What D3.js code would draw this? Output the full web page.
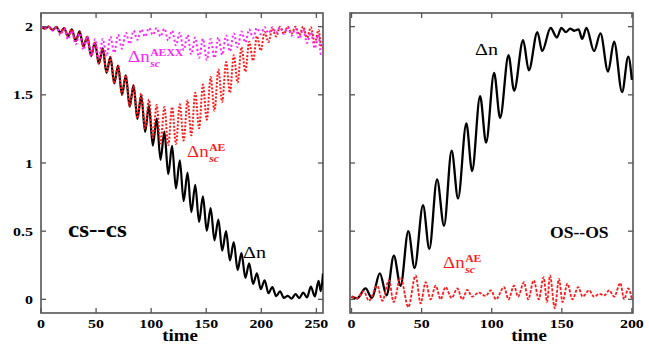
<!DOCTYPE html>
<html><head><meta charset="utf-8">
<script src="https://cdn.jsdelivr.net/npm/d3@7"></script>
<style>
body{margin:0;background:#fff}
svg{display:block}
svg text{font-family:"Liberation Serif","Times New Roman","DejaVu Serif",serif;}
</style>
</head><body>
<svg id="chart" width="649" height="345"></svg>
<script>
// ---------- data ----------
const leftTime = [0,3.5,7,10.5,14,17.5,21,24.5,28,31.5,35,38.5,42,45.5,49,52.5,56,59.5,63,66.5,70,73.5,77,80.5,84,87.5,91,94.5,98,101.5,105,108.5,112,115.5,119,122.5,126,129.5,133,136.5,140,143.5,147,150.5,154,157.5,161,164.5,168,171.5,175,178.5,182,185.5,189,192.5,196,199.5,203,206.5,210,213.5,217,220.5,224,227.5,231,234.5,238,241.5,245,248.5,252,254,256];
const leftDn = [2.00,1.985,2.00,1.975,1.998,1.955,1.99,1.93,1.98,1.895,1.965,1.855,1.925,1.786,1.883,1.729,1.84,1.661,1.778,1.584,1.715,1.501,1.643,1.414,1.57,1.323,1.495,1.228,1.42,1.128,1.325,1.023,1.23,0.918,1.125,0.813,1.02,0.72,0.93,0.64,0.84,0.568,0.755,0.503,0.67,0.433,0.585,0.358,0.50,0.285,0.42,0.215,0.34,0.158,0.265,0.113,0.19,0.075,0.14,0.045,0.09,0.024,0.058,0.011,0.025,0.006,0.038,0.009,0.05,0.014,0.093,0.021,0.135,0.06,0.19];
const leftDnAE = [2.00,1.985,2.00,1.975,1.998,1.955,1.99,1.93,1.98,1.895,1.965,1.855,1.925,1.786,1.883,1.729,1.84,1.661,1.778,1.584,1.715,1.501,1.643,1.414,1.57,1.33,1.51,1.253,1.465,1.185,1.425,1.143,1.41,1.13,1.41,1.14,1.43,1.165,1.46,1.203,1.515,1.255,1.575,1.318,1.63,1.383,1.685,1.448,1.74,1.515,1.79,1.59,1.85,1.67,1.89,1.75,1.93,1.825,1.96,1.888,1.985,1.928,2.0,1.948,2.0,1.95,2.0,1.938,2.0,1.918,1.995,1.885,1.975,1.87,1.84];
const leftDnAEXX = [2.0,1.985,2.0,1.97,1.995,1.939,1.982,1.906,1.97,1.87,1.95,1.83,1.93,1.785,1.908,1.767,1.91,1.783,1.925,1.808,1.94,1.838,1.955,1.873,1.97,1.903,1.98,1.927,1.99,1.94,1.99,1.928,1.985,1.898,1.97,1.863,1.955,1.829,1.938,1.797,1.92,1.771,1.91,1.755,1.909,1.77,1.92,1.793,1.935,1.818,1.95,1.848,1.965,1.883,1.98,1.918,1.99,1.945,1.996,1.952,1.995,1.953,1.995,1.947,1.995,1.934,1.988,1.912,1.98,1.88,1.96,1.84,1.94,1.80,1.82];

const rightDnTime = [0,4,10,14.5,20.2,25,30.2,35,40.5,45,51,55.5,61,66,71.4,76,81.9,86,91.7,96,101.7,106,112,116,122.4,126.5,132.6,136,142,146.5,149.7,153,156,159,162,164.5,167.6,173,177.6,183,187.3,193,197.4,200];
const rightDn = [0.02,0.008,0.08,0.01,0.19,0.03,0.32,0.10,0.50,0.23,0.69,0.37,0.88,0.54,1.09,0.74,1.29,0.94,1.49,1.15,1.66,1.33,1.79,1.53,1.90,1.68,1.96,1.82,1.99,1.92,1.99,1.96,1.985,1.97,1.98,1.91,1.99,1.82,1.95,1.67,1.89,1.52,1.78,1.61];
const rightAETime = [0,4,8.6,12.4,18.3,22,26.7,30,35,40.5,45.7,49.3,52.9,56.4,60,63.6,67,71.4,75.5,79,82.6,86,90.8,95.5,99.5,103,108.8,112,115.9,118.8,123,126,130,133.6,137,139.5,141.6,145,148,150.5,154,157.6,161.7,164.9,169.5,173,176.8,180.4,183.8,187.4,191.7,194.5,197.4,200];
const rightDnAE = [0.02,0.008,0.06,-0.01,0.10,-0.01,0.14,-0.02,0.16,-0.056,0.175,-0.03,0.126,0.0,0.10,0.0,0.09,0.01,0.08,0.0,0.07,0.02,0.05,0.025,0.066,0.0,0.09,0.0,0.10,0.02,0.126,0.0,0.14,0.0,0.163,-0.02,0.175,-0.066,0.15,-0.02,0.115,0.0,0.09,0.02,0.066,0.02,0.04,0.03,0.066,0.02,0.12,0.0,0.08,0.0];

const leftXTicks = [0,50,100,150,200,250];
const rightXTicks = [0,50,100,150,200];
const yTicks = [0,0.5,1,1.5,2];
const yTickLabels = ["0","0.5","1","1.5","2"];
const xTitle = "time";

// ---------- drawing ----------
const svg = d3.select("#chart");
const SX = 1.18; // horizontal stretch of the original raster text

const y = d3.scaleLinear().domain([-0.1, 2.1]).range([313, 13]);
const xL = d3.scaleLinear().domain([0, 256]).range([41, 323]);
const xR = d3.scaleLinear().domain([-1.1, 200.8]).range([350, 633]);

function text(g, x, yy, s, o) {
  o = o || {};
  return g.append("text")
    .attr("transform", `translate(${x},${yy}) scale(${o.sx || SX},1)`)
    .attr("text-anchor", o.anchor || "start")
    .style("font-size", (o.size || 13) + "px")
    .style("font-weight", o.weight || "bold")
    .attr("fill", o.fill || "#000")
    .text(s);
}

function panel(x, xTicks, showY) {
  const g = svg.append("g");
  const [x0, x1] = x.range();
  const [yb, yt] = y.range();
  const tl = 5;
  xTicks.forEach(t => {
    const px = x(t);
    g.append("line").attr("x1", px).attr("x2", px).attr("y1", yb).attr("y2", yb - tl).attr("stroke", "#555").attr("stroke-width", 1.3);
    g.append("line").attr("x1", px).attr("x2", px).attr("y1", yt).attr("y2", yt + tl).attr("stroke", "#555").attr("stroke-width", 1.3);
    text(g, px, 328, String(t), {anchor: "middle", size: 13.5});
  });
  yTicks.forEach((t, i) => {
    const py = y(t);
    g.append("line").attr("x1", x0).attr("x2", x0 + tl).attr("y1", py).attr("y2", py).attr("stroke", "#555").attr("stroke-width", 1.3);
    g.append("line").attr("x1", x1).attr("x2", x1 - tl).attr("y1", py).attr("y2", py).attr("stroke", "#555").attr("stroke-width", 1.3);
    if (showY) text(g, x0 - 8, py + 4.5, yTickLabels[i], {anchor: "end", size: 13.5});
  });
  g.append("rect").attr("x", x0).attr("y", yt).attr("width", x1 - x0).attr("height", yb - yt)
    .attr("fill", "none").attr("stroke", "#555").attr("stroke-width", 1.6);
  return g;
}

function series(g, x, ts, vs, color, width, dash, clipId) {
  const line = d3.line().x((d, i) => x(ts[i])).y(d => y(d)).curve(d3.curveMonotoneX);
  const p = g.append("path").datum(vs).attr("d", line)
    .attr("fill", "none").attr("stroke", color).attr("stroke-width", width)
    .attr("stroke-linejoin", "round").attr("clip-path", `url(#${clipId})`);
  if (dash) p.attr("stroke-dasharray", dash);
  return p;
}

const defs = svg.append("defs");
[["clipL", xL], ["clipR", xR]].forEach(([id, x]) => {
  defs.append("clipPath").attr("id", id).append("rect")
    .attr("x", x.range()[0]).attr("y", y.range()[1])
    .attr("width", x.range()[1] - x.range()[0]).attr("height", y.range()[0] - y.range()[1]);
});

const gL = panel(xL, leftXTicks, true);
const gR = panel(xR, rightXTicks, false);

series(gL, xL, leftTime, leftDn, "#000", 2.2, null, "clipL");
series(gL, xL, leftTime, leftDnAE, "#ff1a1a", 2, "2,1.6", "clipL");
series(gL, xL, leftTime, leftDnAEXX, "#ff22ff", 2, "2,2.4", "clipL");

series(gR, xR, rightDnTime, rightDn, "#000", 2.3, null, "clipR");
series(gR, xR, rightAETime, rightDnAE, "#ff1a1a", 1.8, "3,1.5", "clipR");

// axis titles
text(svg, 180, 341, xTitle, {anchor: "middle", size: 16});
text(svg, 529, 341, xTitle, {anchor: "middle", size: 16});

// panel labels
text(svg, 68, 237, "cs--cs", {size: 24, sx: 1.05});
text(svg, 550, 238, "OS--OS", {size: 16, sx: 1.1});

function dnLabel(x, yy, sup, color, size) {
  const t = svg.append("text")
    .attr("transform", `translate(${x},${yy}) scale(${SX},1)`)
    .attr("fill", color);
  const a = t.append("tspan").style("font-size", size + "px").text("Δn");
  const w = a.node().getComputedTextLength();
  if (sup) {
    t.append("tspan").attr("x", w + 0.5).attr("dy", -size * 0.38).style("font-size", (size * 0.62) + "px").style("font-weight", "bold").text(sup);
    t.append("tspan").attr("x", w + 0.5).attr("dy", size * 0.68).style("font-size", (size * 0.62) + "px").style("font-weight", "bold").style("font-style", "italic").text("sc");
  }
}
dnLabel(128, 62, "AEXX", "#ff22ff", 16);
dnLabel(187, 157, "AE", "#ff1a1a", 16);
dnLabel(443, 268, "AE", "#ff1a1a", 16);
dnLabel(243, 258, null, "#000", 17);
dnLabel(475, 55, null, "#000", 17);
</script>
</body></html>
